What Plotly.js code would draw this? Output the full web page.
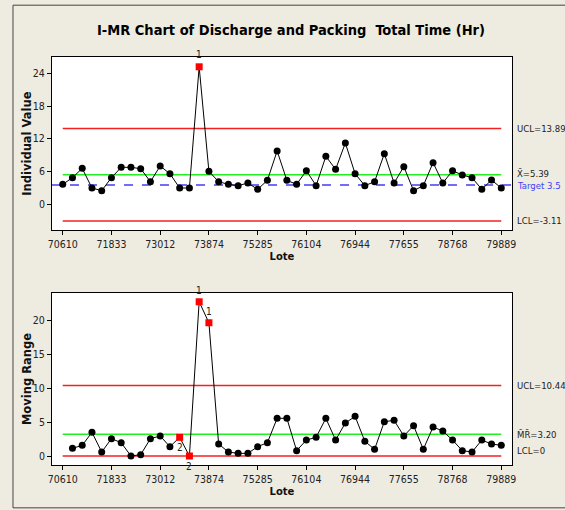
<!DOCTYPE html>
<html><head><meta charset="utf-8">
<script src="https://cdn.plot.ly/plotly-3.0.1.min.js"></script>
<style>html,body{margin:0;padding:0;background:#EEEBE1;}</style>
</head><body><div id="chart" style="width:565px;height:510px;"></div>
<script>
// ---- data ----
const lotTickLabels = ["70610","71833","73012","73874","75285","76104","76944","77655","78768","79889"];
const lotTickIndex = [1,6,11,16,21,26,31,36,41,46];
const individualValues = [3.61,4.84,6.55,2.94,2.45,4.84,6.74,6.74,6.49,4.10,
  6.98,5.57,2.94,2.94,25.2,6.00,4.10,3.61,3.37,3.86,
  2.69,4.35,9.74,4.35,3.61,6.12,3.37,8.76,6.37,11.2,
  5.57,3.37,4.10,9.25,3.86,6.86,2.45,3.37,7.59,3.86,
  6.12,5.33,4.84,2.69,4.41,2.94];
const movingRanges = [null,1.13,1.58,3.50,0.59,2.56,1.97,0.00,0.20,2.56,
  2.96,1.38,2.76,0.00,22.8,19.7,1.77,0.59,0.39,0.39,
  1.38,1.97,5.57,5.57,0.79,2.36,2.76,5.57,2.36,4.88,
  5.86,2.17,0.99,5.07,5.27,2.96,4.48,0.99,4.29,3.69,
  2.36,0.79,0.59,2.36,1.77,1.58];
const iLimits = {UCL:13.89, mean:5.39, LCL:-3.11, target:3.5};
const mrLimits = {UCL:10.44, mean:3.20, LCL:0};
const iFlags = [{i:15, label:"1"}];
const mrFlags = [{i:13,label:"2",pos:"below"},{i:14,label:"2",pos:"below"},{i:15,label:"1",pos:"above"},{i:16,label:"1",pos:"above"}];

const N = individualValues.length;
const idx = individualValues.map((_,k)=>k+1);
const FONT = "'DejaVu Sans Condensed','Liberation Sans Narrow',sans-serif";
const BOLDFONT = "'DejaVu Sans', Verdana, sans-serif";
const RED = "#F22020", GREEN = "#22EE22", BLUE = "#3F3FF5";

function markerStyle(flags, n){
  const set = new Set(flags.map(f=>f.i));
  const sym=[], col=[];
  for(let k=1;k<=n;k++){
    if(set.has(k)){sym.push("square");col.push("#FF0000");}
    else{sym.push("circle");col.push("#000000");}
  }
  return {symbol:sym,color:col,size:7,opacity:1,line:{width:0}};
}

const traces = [];
function hline(y, color, xa, ya, dash, full){
  traces.push({x: full?[-0.1,47.1]:[1,N], y:[y,y], mode:"lines", xaxis:xa, yaxis:ya,
    line:{color:color,width:1.5,dash:dash||"solid"}, hoverinfo:"skip", showlegend:false});
}
hline(iLimits.UCL, RED, "x","y");
hline(iLimits.LCL, RED, "x","y");
hline(iLimits.mean, GREEN, "x","y");
hline(iLimits.target, BLUE, "x","y","dash",true);
hline(mrLimits.UCL, RED, "x2","y2");
hline(mrLimits.LCL, RED, "x2","y2");
hline(mrLimits.mean, GREEN, "x2","y2");

traces.push({x:idx, y:individualValues, mode:"lines+markers", xaxis:"x", yaxis:"y",
  line:{color:"#000",width:1}, marker:markerStyle(iFlags,N), showlegend:false});
traces.push({x:idx, y:movingRanges, mode:"lines+markers", xaxis:"x2", yaxis:"y2",
  line:{color:"#000",width:1}, marker:markerStyle(mrFlags,N), showlegend:false, connectgaps:false});

const tickFont = {family:FONT, size:10.5, color:"#222"};
function xAxis(anchor){
  return {anchor:anchor, range:[-0.1,47.1], tickvals:lotTickIndex, ticktext:lotTickLabels,
    showline:true, mirror:true, linecolor:"#000", linewidth:1, ticks:"outside", ticklen:4,
    tickcolor:"#000", showgrid:false, zeroline:false, tickfont:tickFont,
    title:{text:"<b>Lote</b>", font:{family:BOLDFONT, size:10, color:"#111"}, standoff:4}};
}
function yAxis(domain, range, tickvals){
  return {domain:domain, range:range, tickvals:tickvals, showline:true, mirror:true,
    linecolor:"#000", linewidth:1, ticks:"outside", ticklen:4, tickcolor:"#000",
    showgrid:false, zeroline:false, tickfont:tickFont};
}

const ann = [];
function rlabel(text, ya, y, color, yshift){
  ann.push({xref:"paper", yref:ya, x:1.007, y:y, xanchor:"left", yanchor:"middle", text:text,
    showarrow:false, yshift:yshift||0, font:{family:FONT,size:9.5,color:color||"#222"}});
}
rlabel("UCL=13.89","y",iLimits.UCL);
rlabel("X\u0304=5.39","y",iLimits.mean,null,1);
rlabel("Target 3.5","y",iLimits.target,BLUE,-1);
rlabel("LCL=-3.11","y",iLimits.LCL);
rlabel("UCL=10.44","y2",mrLimits.UCL);
rlabel("M\u0304R\u0304=3.20","y2",mrLimits.mean);
rlabel("LCL=0","y2",mrLimits.LCL,null,6);

// axis titles as annotations for precise placement
ann.push({xref:"paper",yref:"paper",x:-0.054,y:0.788,text:"<b>Individual Value</b>",textangle:-90,
  showarrow:false,xanchor:"center",yanchor:"middle",font:{family:BOLDFONT,size:11.5,color:"#111"}});
ann.push({xref:"paper",yref:"paper",x:-0.054,y:0.211,text:"<b>Moving Range</b>",textangle:-90,
  showarrow:false,xanchor:"center",yanchor:"middle",font:{family:BOLDFONT,size:11.5,color:"#111"}});

iFlags.forEach(f=>{
  ann.push({xref:"x",yref:"y",x:f.i,y:individualValues[f.i-1],text:f.label,showarrow:false,
    yshift:12,font:{family:FONT,size:10,color:"#222"}});
});
mrFlags.forEach(f=>{
  ann.push({xref:"x2",yref:"y2",x:f.i,y:movingRanges[f.i-1],text:f.label,showarrow:false,
    yshift: f.pos==="below"?-10:11, font:{family:FONT,size:10,color:"#222"}});
});

const layout = {
  width:565, height:510, margin:{l:52,r:53,t:57,b:45},
  paper_bgcolor:"#EEEBE1", plot_bgcolor:"#FFFFFF",
  title:{text:"<b>I-MR Chart of Discharge and Packing  Total Time (Hr)</b>", x:0.515, xanchor:"center",
    y:0.942, yanchor:"middle", font:{family:FONT, size:14.5, color:"#000"}},
  xaxis: xAxis("y"),
  yaxis: yAxis([0.576,1],[-4.77,27.0],[0,6,12,18,24]),
  xaxis2: xAxis("y2"),
  yaxis2: yAxis([0,0.4216],[-1.33,24.1],[0,5,10,15,20]),
  annotations: ann,
  shapes:[{type:"rect", xref:"paper", yref:"paper", x0:-0.0848, x1:1.117, y0:-0.105, y1:1.127,
    line:{color:"#444",width:1}, fillcolor:"rgba(0,0,0,0)", layer:"below"}],
  showlegend:false
};
Plotly.newPlot("chart", traces, layout, {staticPlot:true, displayModeBar:false});
</script></body></html>
